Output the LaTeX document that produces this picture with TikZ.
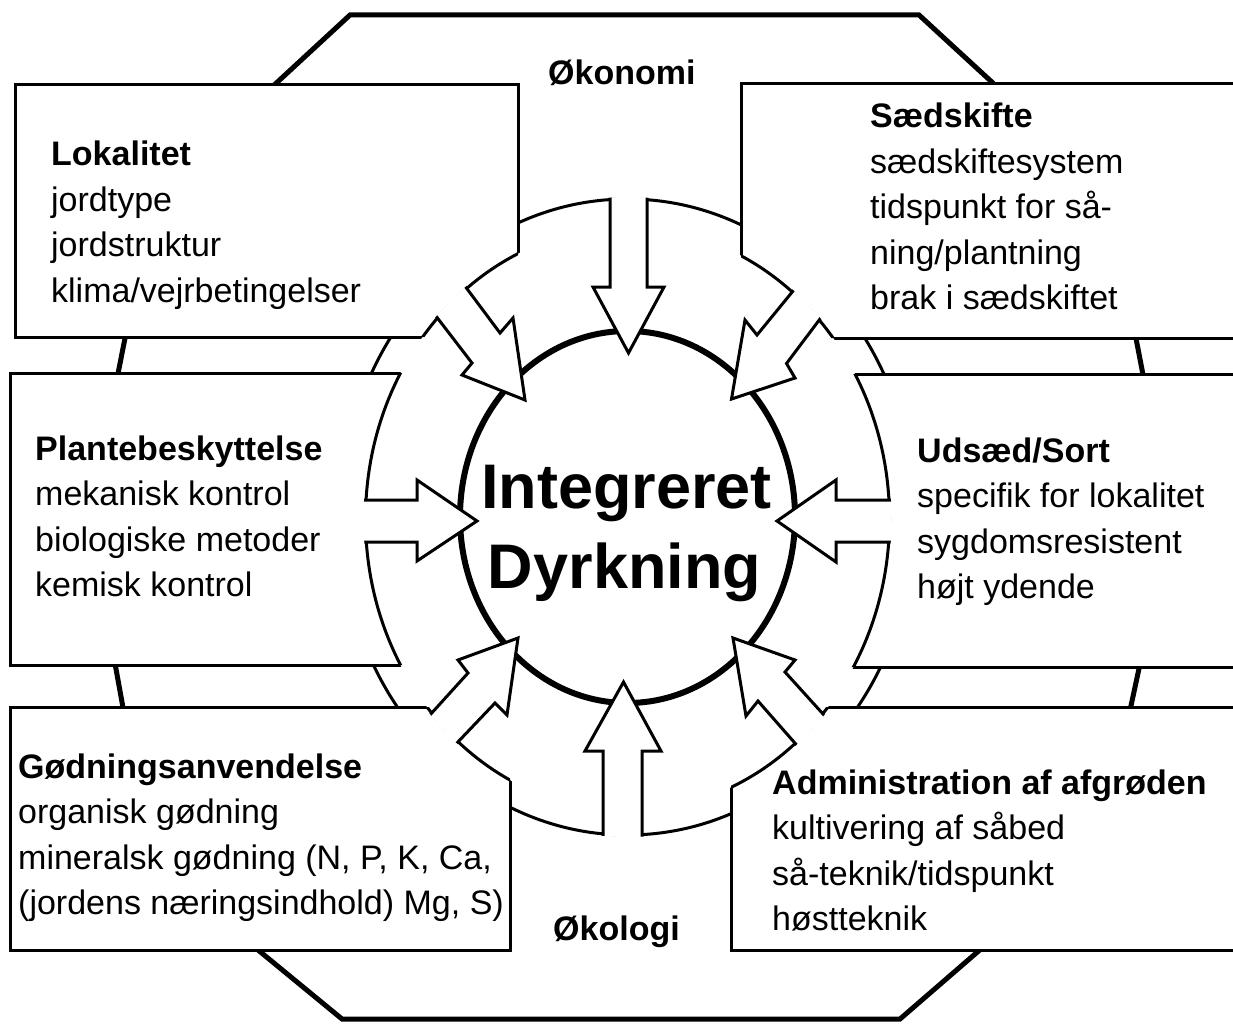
\documentclass[tikz,border=0pt]{standalone}
\usepackage{fontspec}
\newfontfamily\arialf{Liberation Sans}
\newcommand\mystack[1]{\vtop{\baselineskip=45.5pt\lineskiplimit=-100pt\lineskip=0pt #1}}
\begin{document}
\begin{tikzpicture}[x=1pt,y=-1pt,
  octa/.style={draw=black,line width=5pt,fill=white,line join=miter},
  ringline/.style={draw=black,line width=3pt,fill=white},
  boxst/.style={draw=black,line width=3pt,fill=white},
  boxline/.style={draw=black,line width=3pt},
  core/.style={draw=black,line width=6pt,fill=white},
  arrowst/.style={draw=black,line width=3pt,fill=white,line join=miter},
  txt/.style={inner sep=0pt,anchor=base west,font=\arialf\fontsize{34pt}{45.5pt}\selectfont},
  ttl/.style={inner sep=0pt,anchor=base west,font=\arialf\bfseries\fontsize{34pt}{45.5pt}\selectfont},
  big/.style={inner sep=0pt,anchor=base,font=\arialf\bfseries\fontsize{63pt}{80pt}\selectfont}]
\useasboundingbox (0,0) rectangle (1233,1024);
\fill[white] (0,0) rectangle (1233,1024);
\coordinate (cc) at (627.5,517);
\coordinate (ce) at (627.5,519);
% outer octagon
\draw[octa] (350,15) -- (919,15) -- (1107,188) -- (1171,520) -- (1101,845) -- (900,1019) -- (342,1019) -- (151,862) -- (89,520) -- (153,197) -- cycle;
% outer ring
\draw[ringline] (cc) ellipse [x radius=287pt,y radius=318pt];
% boxes
\filldraw[boxst] (15,85) rectangle (518,337);
\filldraw[boxst] (741,84) rectangle (1250,338);
\filldraw[boxst] (10,373) rectangle (520,665);
\filldraw[boxst] (700,374) rectangle (1250,667);
\filldraw[boxst] (10,707) rectangle (510,950);
\filldraw[boxst] (731,707) rectangle (1250,950);
% concave cut of the boxes
\fill[white] (ce) ellipse [x radius=262pt,y radius=292pt];
\begin{scope}
\clip (15,85) rectangle (518,337) (741,84) rectangle (1250,338)
      (10,373) rectangle (520,665) (700,374) rectangle (1250,667)
      (10,707) rectangle (510,950) (731,707) rectangle (1250,950);
\draw[boxline] (ce) ellipse [x radius=262pt,y radius=292pt];
\end{scope}
% central circle
\draw[core] (cc) ellipse [x radius=167.5pt,y radius=186pt];
% arrows coming out of the boxes
\begin{scope}
\clip (ce) ellipse [x radius=264pt,y radius=294pt];
% top-left
\filldraw[arrowst] (419,294) -- (472,363) -- (462,375) -- (525,400) -- (513,318) -- (500,333) -- (450,266) -- cycle;
% left
\filldraw[arrowst] (330,500) -- (417,500) -- (417,480) -- (477,521) -- (417,561) -- (417,542) -- (330,542) -- cycle;
% bottom-left
\filldraw[arrowst] (410,737) -- (468,673) -- (458,660) -- (518,638) -- (507,715) -- (495,703) -- (436,765) -- cycle;
% top-right
\filldraw[arrowst] (811,269) -- (757,335) -- (745,320) -- (731.5,399) -- (795,378) -- (786.5,363.5) -- (838,295) -- cycle;
% right
\filldraw[arrowst] (925,500) -- (836,500) -- (836,480) -- (777,521) -- (836,562) -- (836,542) -- (925,542) -- cycle;
% bottom-right
\filldraw[arrowst] (842,735) -- (785,672) -- (795,660) -- (733,638) -- (746,716) -- (758,701) -- (815,766) -- cycle;
\end{scope}
% arrows coming out of the outer ring
\begin{scope}
\clip (cc) ellipse [x radius=289pt,y radius=320pt];
\filldraw[arrowst] (610,170) -- (610,287) -- (593,287) -- (628.5,353) -- (664,287) -- (647,287) -- (647,170) -- cycle;
\filldraw[arrowst] (603,870) -- (603,751) -- (585,751) -- (623.5,682) -- (661,751) -- (642,751) -- (642,870) -- cycle;
\end{scope}
% texts
\node[ttl] (okonomi) at (548,85) {Økonomi};
\node[ttl] (okologi) at (553,940) {Økologi};
\node[big] (integ) at (626.5,508) {Integreret};
\node[big] (dyrk) at (624.5,588) {Dyrkning};
\node[txt] (lok) at (51,166) {\mystack{\hbox{\bfseries Lokalitet}\hbox{jordtype}\hbox{jordstruktur}\hbox{klima/vejrbetingelser}}};
\node[txt] (saed) at (870,128) {\mystack{\hbox{\bfseries Sædskifte}\hbox{sædskiftesystem}\hbox{tidspunkt for så-}\hbox{ning/plantning}\hbox{brak i sædskiftet}}};
\node[txt] (plante) at (35,460) {\mystack{\hbox{\bfseries Plantebeskyttelse}\hbox{mekanisk kontrol}\hbox{biologiske metoder}\hbox{kemisk kontrol}}};
\node[txt] (udsaed) at (917,462) {\mystack{\hbox{\bfseries Udsæd/Sort}\hbox{specifik for lokalitet}\hbox{sygdomsresistent}\hbox{højt ydende}}};
\node[txt] (godning) at (18,778) {\mystack{\hbox{\bfseries Gødningsanvendelse}\hbox{organisk gødning}\hbox{mineralsk gødning (N, P, K, Ca,}\hbox{(jordens næringsindhold) Mg, S)}}};
\node[txt] (admin) at (772,794) {\mystack{\hbox{\bfseries Administration af afgrøden}\hbox{kultivering af såbed}\hbox{så-teknik/tidspunkt}\hbox{høstteknik}}};
\end{tikzpicture}
\end{document}
